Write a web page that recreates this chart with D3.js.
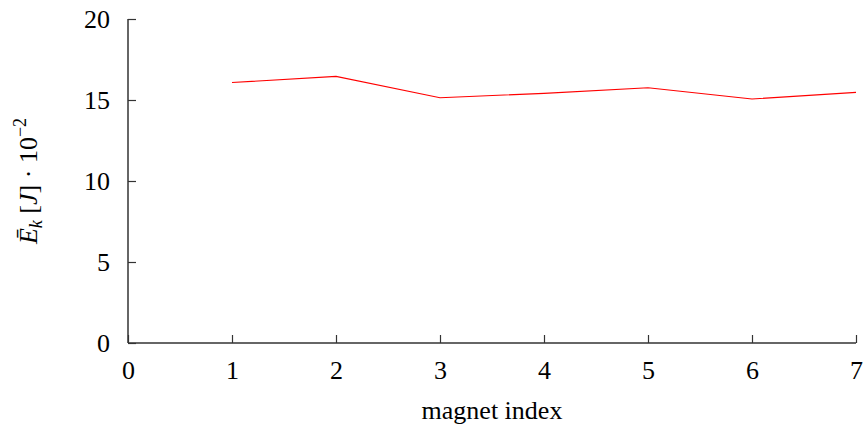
<!DOCTYPE html>
<html>
<head>
<meta charset="utf-8">
<script src="https://cdn.jsdelivr.net/npm/d3@7"></script>
<style>
  html, body { margin: 0; padding: 0; background: #fff; }
</style>
</head>
<body>
<svg id="chart" width="864" height="432"></svg>
<script>
// Mean kinetic energy per magnet
const magnetIndex = [1, 2, 3, 4, 5, 6, 7];
const meanEnergy = [16.08, 16.46, 15.14, 15.41, 15.76, 15.06, 15.47];
const xTicks = [0, 1, 2, 3, 4, 5, 6, 7];
const yTicks = [0, 5, 10, 15, 20];

const FONT = "'Liberation Serif', 'Times New Roman', Tinos, serif";
const svg = d3.select("#chart");
const margin = { left: 128, right: 8, top: 19, bottom: 89 };
const W = 864, H = 432;

const x = d3.scaleLinear().domain([0, 7]).range([margin.left, W - margin.right]);
const y = d3.scaleLinear().domain([0, 20]).range([H - margin.bottom, margin.top]);

const axisColor = "#333";

// x axis with inward ticks
const gx = svg.append("g")
  .attr("transform", `translate(0,${y(0)})`)
  .call(d3.axisBottom(x).tickValues(xTicks).tickSize(-8).tickPadding(0).tickFormat(d3.format("d")));
gx.attr("font-family", null).attr("font-size", null);
gx.select(".domain").attr("stroke", axisColor).attr("stroke-width", 1.5)
  .attr("d", `M${x(0)},0H${x(7)}`);
gx.selectAll(".tick line").attr("stroke", axisColor).attr("stroke-width", 1.2);
gx.selectAll(".tick text")
  .attr("y", 36).attr("dy", 0)
  .style("font-size", "26px")
  .style("font-family", FONT);

// y axis with inward ticks
const gy = svg.append("g")
  .attr("transform", `translate(${x(0)},0)`)
  .call(d3.axisLeft(y).tickValues(yTicks).tickSize(-8).tickPadding(0).tickFormat(d3.format("d")));
gy.attr("font-family", null).attr("font-size", null);
gy.select(".domain").attr("stroke", axisColor).attr("stroke-width", 1.5)
  .attr("d", `M0,${y(20)}V${y(0)}`);
gy.selectAll(".tick line").attr("stroke", axisColor).attr("stroke-width", 1.2);
gy.selectAll(".tick text")
  .attr("x", -18).attr("dy", "0.33em")
  .style("font-size", "26px")
  .style("font-family", FONT);

// data line
const line = d3.line().x((d, i) => x(magnetIndex[i])).y(d => y(d));
svg.append("path")
  .datum(meanEnergy)
  .attr("fill", "none")
  .attr("stroke", "#ff0000")
  .attr("stroke-width", 1.1)
  .attr("d", line);

// axis titles
svg.append("text")
  .attr("x", (x(0) + x(7)) / 2)
  .attr("y", 419)
  .attr("text-anchor", "middle")
  .style("font-family", FONT)
  .style("font-size", "26px")
  .text("magnet index");

const yl = svg.append("text")
  .attr("transform", `translate(37,${(y(0) + y(20)) / 2}) rotate(-90)`)
  .attr("text-anchor", "middle")
  .style("font-family", FONT)
  .style("font-size", "26px");
yl.append("tspan").style("font-style", "italic").text("Ē");
yl.append("tspan").style("font-style", "italic").style("font-size", "18px").attr("dy", 5).text("k");
yl.append("tspan").attr("dy", -5).text(" [");
yl.append("tspan").style("font-style", "italic").text("J");
yl.append("tspan").text("] · 10");
yl.append("tspan").style("font-size", "18px").attr("dy", -11).text("−2");
</script>
</body>
</html>
